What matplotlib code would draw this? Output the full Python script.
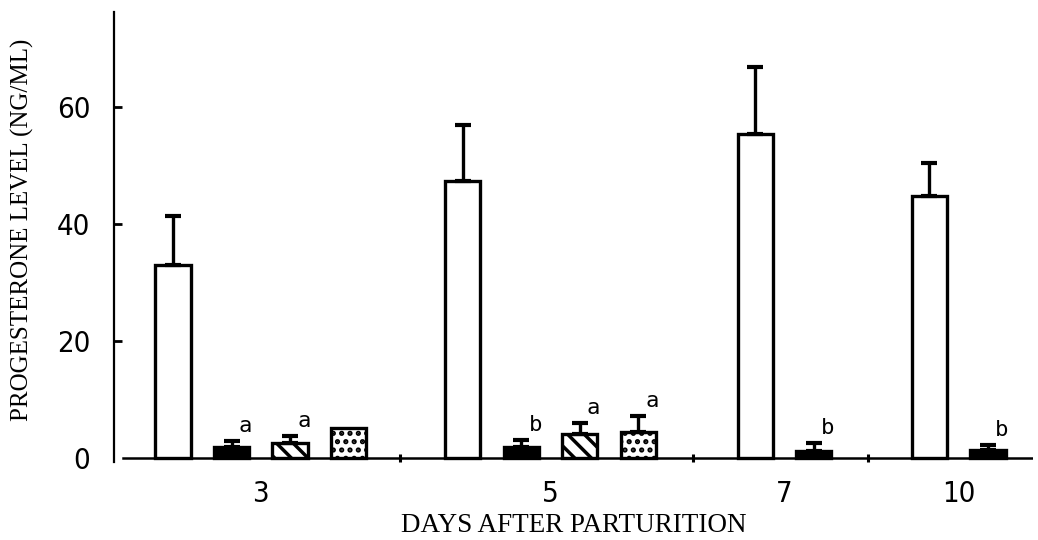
import numpy as np
import matplotlib
matplotlib.use("Agg")
import matplotlib.pyplot as plt
from matplotlib import font_manager
from matplotlib.font_manager import FontProperties

# ---------------- data ----------------
days = ["3", "5", "7", "10"]
open_mean = [33.0, 47.4, 55.4, 44.8]
open_sem = [8.4, 9.5, 11.4, 5.6]
black_mean = [1.8, 1.8, 1.2, 1.4]
black_sem = [1.1, 1.3, 1.3, 0.9]
black_letter = ["a", "b", "b", "b"]
hatch_mean = [2.6, 4.1]          # days 3 and 5 only
hatch_sem = [1.2, 1.9]
hatch_letter = ["a", "a"]
dot_mean = [5.2, 4.4]            # days 3 and 5 only
dot_sem = [0.0, 2.8]
dot_letter = ["", "a"]
yticks = [0, 20, 40, 60]

# ---------------- fonts ----------------
def pick_narrow():
    fl = font_manager.fontManager.ttflist
    for f in fl:
        if f.name == "Liberation Sans Narrow" and f.style == "normal":
            return FontProperties(fname=f.fname), True
    for f in fl:
        st = str(f.stretch)
        if f.name == "DejaVu Sans" and ("condensed" in st or st in ("100", "200", "300", "400")) \
                and f.style == "normal" and f.weight in (400, "normal"):
            return FontProperties(fname=f.fname), True
    for f in fl:
        if ("Condensed" in f.name or "Narrow" in f.name) and f.style == "normal":
            return FontProperties(fname=f.fname), True
    return FontProperties(family="Roboto"), False

tickfp, is_narrow = pick_narrow()
tick_size = 21 if is_narrow else 19
serif = "Liberation Serif"
mono = "DejaVu Sans Mono"
plt.rcParams["hatch.linewidth"] = 2.5

# ---------------- layout ----------------
W, H = 1038, 540
fig = plt.figure(figsize=(W / 100, H / 100), dpi=100)
ax = fig.add_axes([114 / W, 78 / H, 919 / W, 450 / H])

group_start = [0.0, 4.95, 9.95, 12.93]
bw = 0.6
ekw = dict(fmt="none", ecolor="k", elinewidth=2.4, capsize=6, capthick=3, zorder=4)
lw = 2.4

def letters(xs, tops, labs):
    for x, t, l in zip(xs, tops, labs):
        if l:
            ax.annotate(l, xy=(x, t), xytext=(14, 15), textcoords="offset pixels",
                        ha="center", va="center", fontsize=16, family=mono)

xo = np.array(group_start)
xb = xo + 1.0
xh = xo[:2] + 2.0
xd = xo[:2] + 3.0

ax.bar(xo, open_mean, bw, facecolor="white", edgecolor="k", linewidth=lw, zorder=3)
ax.errorbar(xo, open_mean, yerr=[np.zeros(4), open_sem], **ekw)

ax.bar(xb, black_mean, bw, facecolor="k", edgecolor="k", linewidth=lw, zorder=3)
ax.errorbar(xb, black_mean, yerr=[np.zeros(4), black_sem], **ekw)
letters(xb, np.add(black_mean, black_sem), black_letter)

ax.bar(xh, hatch_mean, bw, facecolor="white", edgecolor="k", linewidth=lw,
       hatch="\\\\", zorder=3)
ax.errorbar(xh, hatch_mean, yerr=[np.zeros(2), hatch_sem], **ekw)
letters(xh, np.add(hatch_mean, hatch_sem), hatch_letter)

ax.bar(xd, dot_mean, bw, facecolor="white", edgecolor="k", linewidth=lw,
       hatch="..", zorder=3)
ax.errorbar(xd[1:], dot_mean[1:], yerr=[np.zeros(1), dot_sem[1:]], **ekw)
letters(xd, np.add(dot_mean, dot_sem), dot_letter)

# axes
ax.set_xlim(-1.0085, 14.70)
ax.set_ylim(-0.68, 76.2)
for s in ["top", "right", "bottom"]:
    ax.spines[s].set_visible(False)
ax.spines["left"].set_linewidth(1.6)
ax.axhline(0, xmin=9 / 919, xmax=1, color="k", linewidth=1.8, zorder=5)

ax.set_yticks(yticks)
ax.set_yticklabels([str(v) for v in yticks], fontproperties=tickfp, fontsize=tick_size)
ax.tick_params(axis="y", direction="in", length=6, width=2, pad=17)
ax.yaxis.get_major_ticks()[0].tick1line.set_visible(False)

centers = [(xo[0] + xd[0]) / 2, (xo[1] + xd[1]) / 2, (xo[2] + xb[2]) / 2, (xo[3] + xb[3]) / 2]
ax.set_xticks(centers)
ax.set_xticklabels(days, fontproperties=tickfp, fontsize=tick_size)
ax.tick_params(axis="x", which="major", length=0, pad=13)
seps = [group_start[1] - 1.07, group_start[2] - 1.06, group_start[3] - 1.05]
ax.set_xticks(seps, minor=True)
ax.tick_params(axis="x", which="minor", direction="in", length=6, width=2.2)

ax.set_ylabel("PROGESTERONE LEVEL (NG/ML)", family=serif, fontsize=18)
ax.yaxis.label.set_va("center")
ax.yaxis.set_label_coords((22 - 114) / 919, (462 - 230) / 450)
ax.set_xlabel("DAYS AFTER PARTURITION", family=serif, fontsize=19.5)
ax.xaxis.label.set_va("center")
ax.xaxis.set_label_coords(0.5, -(526 - 462) / 450)

fig.savefig("out.png", dpi=100)
